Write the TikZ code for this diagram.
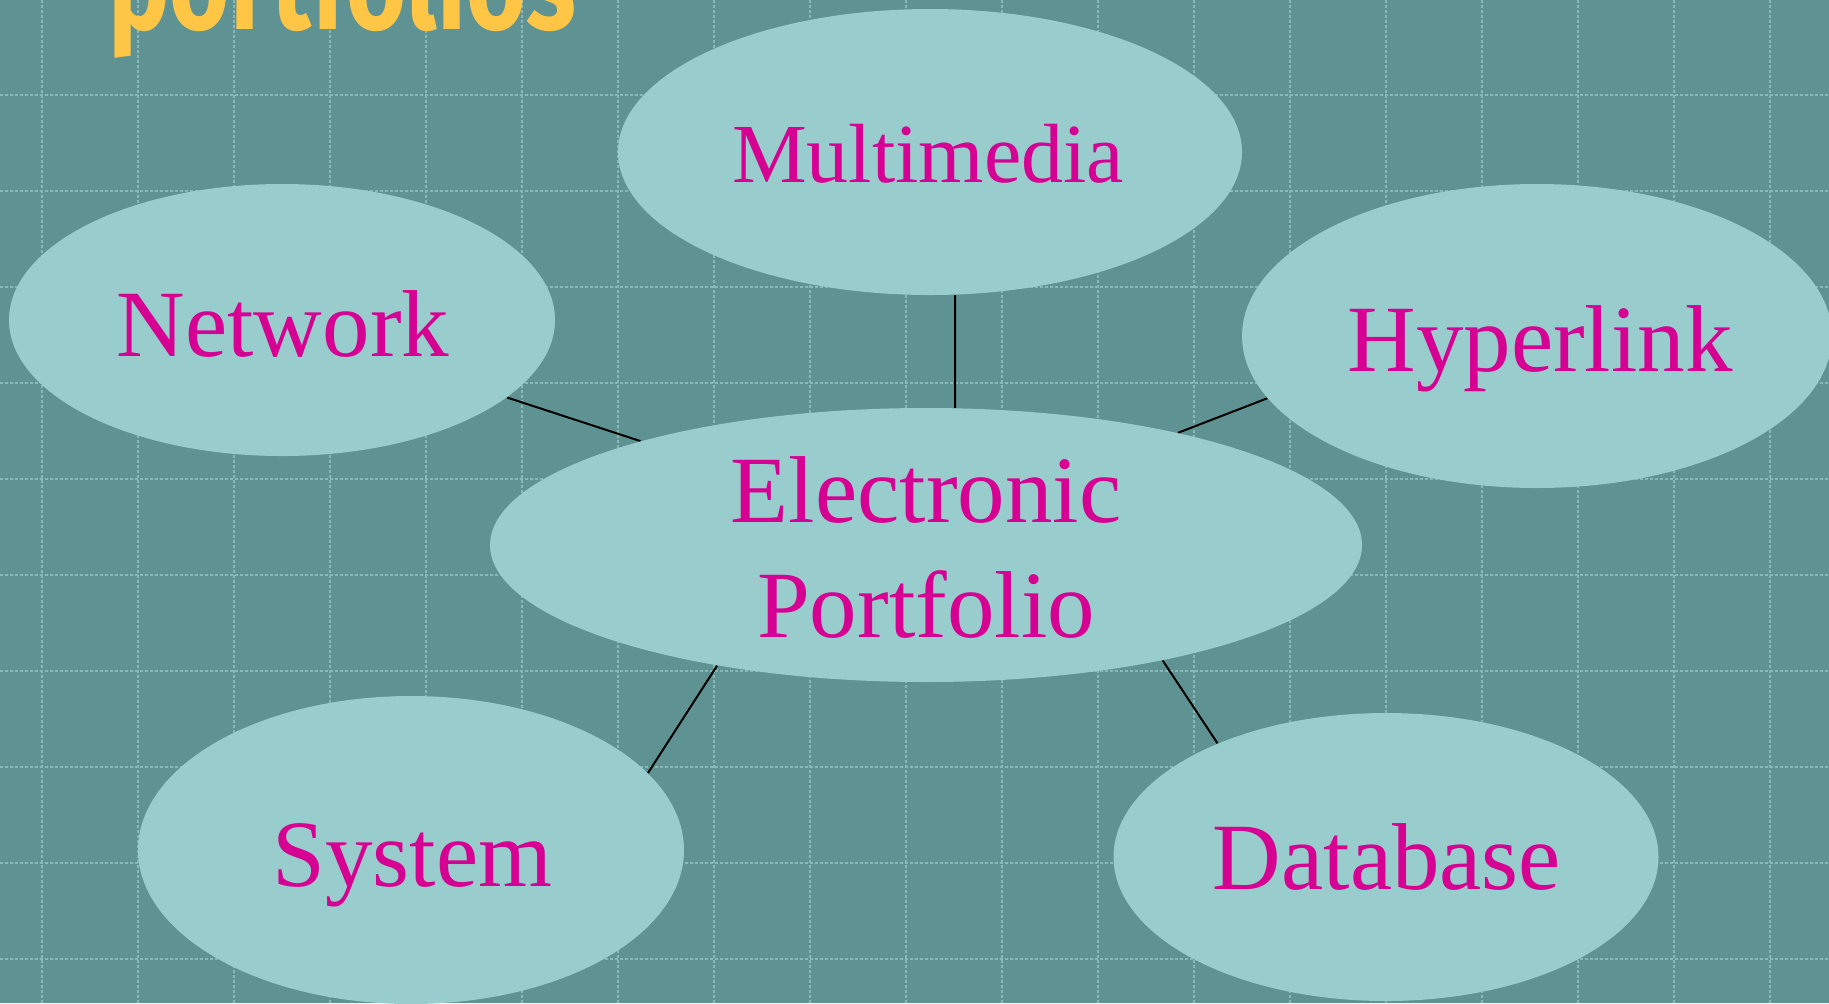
\documentclass[tikz,border=0pt]{standalone}
\usepackage{fontspec}
\setmainfont{Liberation Serif}
\newfontfamily\headfont{Fira Sans}
\usetikzlibrary{shapes.geometric}

\definecolor{slate}{RGB}{95,146,146}
\definecolor{bubblefill}{RGB}{153,204,204}
\definecolor{gridline}{RGB}{138,184,184}
\definecolor{labelpink}{RGB}{214,0,147}
\definecolor{headgold}{RGB}{255,198,69}

\pgfdeclarelayer{bg}
\pgfdeclarelayer{links}
\pgfsetlayers{bg,links,main}

\begin{document}
\begin{tikzpicture}[x=0.5pt,y=-0.5pt,
  bubble/.style={ellipse, fill=bubblefill, inner sep=0pt},
  lbl/.style={text=labelpink, inner sep=0pt, font=\fontsize{47.5}{57.5}\selectfont},
  link/.style={draw=black, line width=1pt},
  gridrule/.style={draw=gridline, line width=0.6pt, dash pattern=on 1.5pt off 1pt}]

\useasboundingbox (0,0) rectangle (1829,1003);

% backdrop and dashed grid
\begin{pgfonlayer}{bg}
  \fill[slate] (0,0) rectangle (1829,1003);
  \foreach \gx in {42,138,...,1770} \draw[gridrule] (\gx,0) -- (\gx,1003);
  \foreach \gy in {95,191,...,959} \draw[gridrule] (0,\gy) -- (1829,\gy);
\end{pgfonlayer}

% heading (last line of the slide title)
\node[anchor=base west, inner sep=0pt, text=headgold] (heading) at (108,29)
  {\resizebox{234pt}{\height}{\headfont\bfseries\fontsize{65}{70}\selectfont portfolios}};

% bubbles
\node[bubble, minimum width=312pt, minimum height=143pt] (mm) at (930,152) {};
\node[bubble, minimum width=273pt, minimum height=136pt] (net) at (282,320) {};
\node[bubble, minimum width=295pt, minimum height=152pt] (hyp) at (1537,336) {};
\node[bubble, minimum width=436pt, minimum height=137pt] (ep) at (926,545) {};
\node[bubble, minimum width=273pt, minimum height=154pt] (sys) at (411,850) {};
\node[bubble, minimum width=272.5pt, minimum height=144pt] (db) at (1386,857) {};

% labels
\node[lbl, anchor=base, font=\fontsize{42}{50}\selectfont] (mmtext) at (928,182) {Multimedia};
\node[lbl, anchor=base] (nettext) at (283,356) {Network};
\node[lbl, anchor=base] (hyptext) at (1540,371) {Hyperlink};
\node[lbl, align=center] (eptext) at (926,547) {Electronic\\Portfolio};
\node[lbl, anchor=base] (systext) at (412.5,886) {System};
\node[lbl, anchor=base] (dbtext) at (1387,889) {Database};

% connectors, kept beneath the bubbles
\begin{pgfonlayer}{links}
  \draw[link] (mm.-80.5) -- (ep.78.4);
  \draw[link] (net.-19.3) -- (ep.160.8);
  \draw[link] (hyp.193) -- (ep.24.7);
  \draw[link] (sys.18.8) -- (ep.-150.3);
  \draw[link] (db.146.7) -- (ep.-26.8);
\end{pgfonlayer}

\end{tikzpicture}
\end{document}
